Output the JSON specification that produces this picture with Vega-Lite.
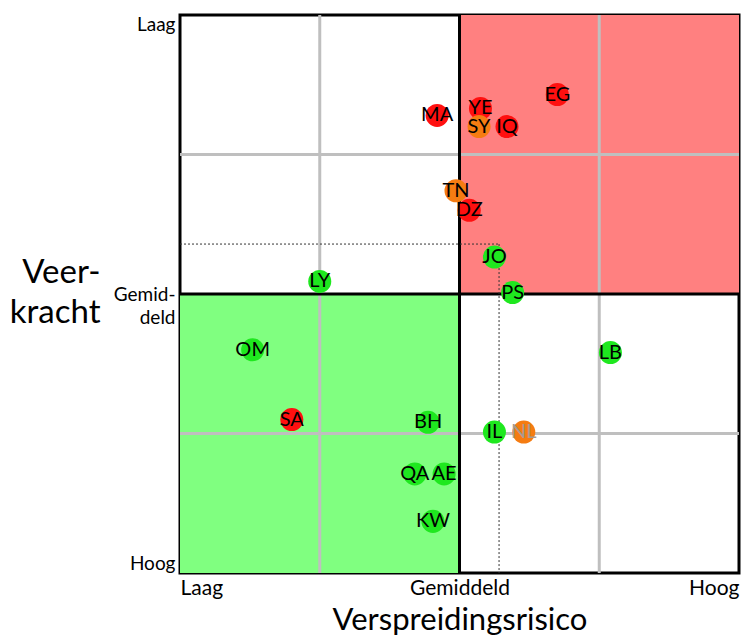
{
  "$schema": "https://vega.github.io/schema/vega-lite/v6.json",
  "width": 559,
  "height": 558,
  "autosize": {"type": "none"},
  "padding": {"left": 180, "top": 15, "right": 3, "bottom": 65},
  "config": {
    "font": "Lato",
    "view": {"stroke": "black", "strokeWidth": 3},
    "axis": {"labelColor": "black", "titleColor": "black", "titleFontWeight": "normal"}
  },
  "datasets": {
    "zones": [
      {"zone": "rood", "x": 2, "x2": 4, "y": 0, "y2": 2},
      {"zone": "groen", "x": 0, "x2": 2, "y": 2, "y2": 4}
    ],
    "grid": [{"v": 1}, {"v": 3}],
    "mid": [{"v": 2}],
    "avgH": [{"x": 0, "x2": 2.283, "y": 1.642}],
    "avgV": [{"x": 2.283, "y": 1.642, "y2": 4}],
    "landen": [
      {"code": "MA", "risico": 1.84, "veerkracht": 0.72, "status": "rood"},
      {"code": "YE", "risico": 2.15, "veerkracht": 0.67, "status": "rood"},
      {"code": "SY", "risico": 2.14, "veerkracht": 0.80, "status": "oranje"},
      {"code": "IQ", "risico": 2.34, "veerkracht": 0.80, "status": "rood"},
      {"code": "EG", "risico": 2.70, "veerkracht": 0.57, "status": "rood"},
      {"code": "TN", "risico": 1.975, "veerkracht": 1.26, "status": "oranje"},
      {"code": "DZ", "risico": 2.07, "veerkracht": 1.40, "status": "rood"},
      {"code": "JO", "risico": 2.25, "veerkracht": 1.735, "status": "groen"},
      {"code": "PS", "risico": 2.38, "veerkracht": 1.99, "status": "groen"},
      {"code": "LY", "risico": 1.00, "veerkracht": 1.91, "status": "groen"},
      {"code": "OM", "risico": 0.52, "veerkracht": 2.40, "status": "groen"},
      {"code": "LB", "risico": 3.08, "veerkracht": 2.42, "status": "groen"},
      {"code": "SA", "risico": 0.80, "veerkracht": 2.90, "status": "rood"},
      {"code": "BH", "risico": 1.775, "veerkracht": 2.92, "status": "groen"},
      {"code": "IL", "risico": 2.25, "veerkracht": 2.99, "status": "groen"},
      {"code": "NL", "risico": 2.46, "veerkracht": 2.99, "status": "oranje"},
      {"code": "QA", "risico": 1.68, "veerkracht": 3.29, "status": "groen"},
      {"code": "AE", "risico": 1.89, "veerkracht": 3.29, "status": "groen"},
      {"code": "KW", "risico": 1.81, "veerkracht": 3.63, "status": "groen"}
    ]
  },
  "layer": [
    {
      "data": {"name": "zones"},
      "mark": {"type": "rect"},
      "encoding": {
        "x": {"field": "x", "type": "quantitative", "scale": {"domain": [0, 4], "nice": false, "zero": false},
          "axis": {"values": [0, 2, 4], "labelExpr": "datum.value == 0 ? 'Laag' : datum.value == 2 ? 'Gemiddeld' : 'Hoog'",
            "labelFlush": true, "domain": false, "ticks": false, "grid": false, "labelFontSize": 21, "labelPadding": 4,
            "title": "Verspreidingsrisico", "titleFontSize": 31, "titlePadding": 7}},
        "x2": {"field": "x2"},
        "y": {"field": "y", "type": "quantitative", "scale": {"domain": [0, 4], "nice": false, "zero": false, "reverse": true},
          "axis": {"values": [0, 2, 4], "labelExpr": "datum.value == 0 ? 'Laag' : datum.value == 2 ? ['Gemid-', 'deld\u00a0\u00a0\u00a0\u00a0'] : 'Hoog'",
            "labelFlush": true, "domain": false, "ticks": false, "grid": false, "labelFontSize": 19, "labelPadding": 5, "labelLineHeight": 23,
            "title": ["Veer-", "kracht"], "titleAngle": 0, "titleFontSize": 33, "titleAlign": "right", "titleBaseline": "top",
            "titleX": -80, "titleY": 241, "titleLineHeight": 40}},
        "y2": {"field": "y2"},
        "color": {"field": "zone", "type": "nominal", "scale": {"domain": ["rood", "groen"], "range": ["#ff8080", "#80ff80"]}, "legend": null}
      }
    },
    {
      "data": {"name": "grid"},
      "mark": {"type": "rule", "color": "#bfbfbf", "strokeWidth": 3},
      "encoding": {"x": {"field": "v", "type": "quantitative"}}
    },
    {
      "data": {"name": "grid"},
      "mark": {"type": "rule", "color": "#bfbfbf", "strokeWidth": 3},
      "encoding": {"y": {"field": "v", "type": "quantitative"}}
    },
    {
      "data": {"name": "mid"},
      "mark": {"type": "rule", "color": "black", "strokeWidth": 3},
      "encoding": {"x": {"field": "v", "type": "quantitative"}}
    },
    {
      "data": {"name": "mid"},
      "mark": {"type": "rule", "color": "black", "strokeWidth": 3},
      "encoding": {"y": {"field": "v", "type": "quantitative"}}
    },
    {
      "data": {"name": "avgH"},
      "mark": {"type": "rule", "color": "#333333", "strokeWidth": 1, "strokeDash": [2, 2]},
      "encoding": {"x": {"field": "x", "type": "quantitative"}, "x2": {"field": "x2"}, "y": {"field": "y", "type": "quantitative"}}
    },
    {
      "data": {"name": "avgV"},
      "mark": {"type": "rule", "color": "#333333", "strokeWidth": 1, "strokeDash": [2, 2]},
      "encoding": {"x": {"field": "x", "type": "quantitative"}, "y": {"field": "y", "type": "quantitative"}, "y2": {"field": "y2"}}
    },
    {
      "data": {"name": "landen"},
      "mark": {"type": "circle", "size": 530, "opacity": 1},
      "encoding": {
        "x": {"field": "risico", "type": "quantitative"},
        "y": {"field": "veerkracht", "type": "quantitative"},
        "color": {"field": "status", "type": "nominal", "scale": {"domain": ["rood", "oranje", "groen"], "range": ["#ff1010", "#f57c12", "#1fe81f"]}, "legend": null}
      }
    },
    {
      "data": {"name": "landen"},
      "mark": {"type": "text", "fontSize": 20, "align": "center", "baseline": "middle"},
      "encoding": {
        "x": {"field": "risico", "type": "quantitative"},
        "y": {"field": "veerkracht", "type": "quantitative"},
        "text": {"field": "code"},
        "color": {"condition": {"test": "datum.code == 'NL'", "value": "#a89a90"}, "value": "black"}
      }
    }
  ],
  "resolve": {"scale": {"color": "independent"}}
}
